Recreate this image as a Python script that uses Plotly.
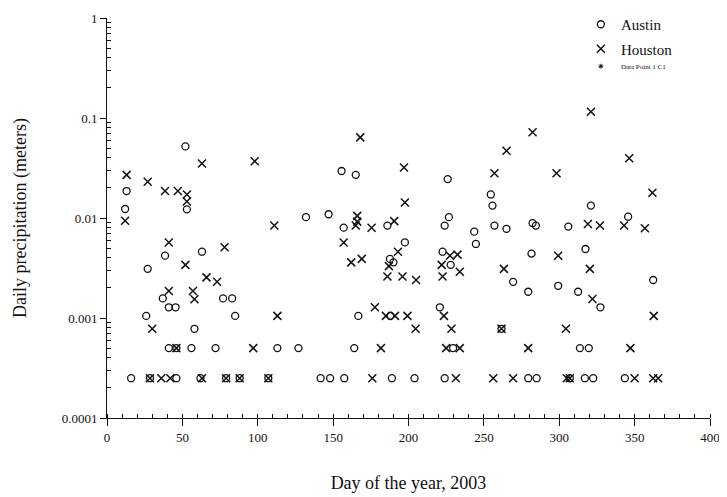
import plotly.graph_objects as go

# ---- Data ----
austin_day = [13, 12, 52, 53, 132, 147,
              38.5, 63, 27, 37, 41, 45.5, 77, 83, 26, 85, 58,
              41, 46, 56, 72, 113, 127,
              16, 28.5, 46, 62, 79, 88, 107,
              155.6, 165, 226, 254.6, 255.7, 157, 186, 226.8, 224, 257, 265,
              197.6, 244.7, 243.6, 187.7, 190, 222.6, 228, 269.4, 166.7, 188, 220.8, 261.7, 164, 229.6,
              141.7, 148, 157.4, 189, 204, 224,
              321, 345.7, 282.3, 284.5, 306, 281.6, 317.4, 279.4, 299.3, 312.5, 327.3, 362.3, 313.7, 319.6,
              279.4, 285, 307, 317, 322.5, 343.5]
austin_val = [0.0186, 0.0123, 0.052, 0.0122, 0.0102, 0.0109,
              0.0042, 0.0046, 0.0031, 0.00157, 0.00128, 0.00128, 0.00157, 0.00157, 0.00105, 0.00105, 0.00078,
              0.0005, 0.0005, 0.0005, 0.0005, 0.0005, 0.0005,
              0.00025, 0.00025, 0.00025, 0.00025, 0.00025, 0.00025, 0.00025,
              0.0295, 0.027, 0.0245, 0.0172, 0.0133, 0.008, 0.0084, 0.0102, 0.0084, 0.0084, 0.0078,
              0.0057, 0.0055, 0.0073, 0.0039, 0.0036, 0.0046, 0.0034, 0.0023, 0.00105, 0.00105, 0.00128, 0.00078, 0.0005, 0.0005,
              0.00025, 0.00025, 0.00025, 0.00025, 0.00025, 0.00025,
              0.0133, 0.0103, 0.0089, 0.0084, 0.0082, 0.0044, 0.0049, 0.00183, 0.0021, 0.00183, 0.00128, 0.0024, 0.0005, 0.0005,
              0.00025, 0.00025, 0.00025, 0.00025, 0.00025, 0.00025]

houston_day = [63, 98, 13, 27, 38.5, 47, 53, 53, 12, 111,
               41, 78, 52, 66, 73, 41, 57, 58, 113, 30,
               46, 97,
               28.5, 36, 42, 63, 79, 88, 107,
               168, 197, 265, 257, 197.6, 166, 166, 165, 175.5, 190.5,
               157, 193, 162, 169, 187, 186, 196, 205, 227.5, 232.5, 222, 234, 222.6, 263.3,
               177.7, 185, 191, 199.3, 204.7, 223.5, 228.5, 261.7, 181.7, 225, 234,
               176, 231.4, 256.2, 269.4,
               321, 282.3, 346.4, 298.2, 361.8, 319, 327, 343, 356.8, 299.3, 320.3, 322, 362.7, 304.4, 279.4, 347.2,
               305, 307, 350, 362.3, 365.6]
houston_val = [0.035, 0.037, 0.027, 0.023, 0.0186, 0.0186, 0.0172, 0.0146, 0.0094, 0.0084,
               0.0057, 0.0051, 0.0034, 0.00255, 0.0023, 0.00186, 0.00186, 0.00154, 0.00105, 0.00078,
               0.0005, 0.0005,
               0.00025, 0.00025, 0.00025, 0.00025, 0.00025, 0.00025, 0.00025,
               0.064, 0.032, 0.047, 0.028, 0.0143, 0.0105, 0.0092, 0.0084, 0.008, 0.0093,
               0.0057, 0.0046, 0.0036, 0.0039, 0.0033, 0.0026, 0.0026, 0.0024, 0.0042, 0.0043, 0.0034, 0.0029, 0.0026, 0.0031,
               0.00128, 0.00105, 0.00105, 0.00105, 0.00078, 0.00105, 0.00078, 0.00078, 0.0005, 0.0005, 0.0005,
               0.00025, 0.00025, 0.00025, 0.00025,
               0.1156, 0.072, 0.0395, 0.028, 0.0179, 0.0087, 0.0084, 0.0084, 0.0079, 0.0042, 0.0031, 0.00155, 0.00105, 0.00078, 0.0005, 0.0005,
               0.00025, 0.00025, 0.00025, 0.00025, 0.00025]

x_ticks = [0, 50, 100, 150, 200, 250, 300, 350, 400]
y_ticks = [1, 0.1, 0.01, 0.001, 0.0001]
y_tick_labels = ["1", "0.1", "0.01", "0.001", "0.0001"]
y_minor_ticks = [m * 10.0 ** e for e in range(-4, 0) for m in range(2, 10)]

FONT = "Liberation Serif, Times New Roman, serif"
INK = "#111111"

fig = go.Figure()
fig.add_trace(go.Scatter(
    x=austin_day, y=austin_val, mode="markers", name="Austin",
    legendgroup="a",
    marker=dict(symbol="circle-open", size=7, color=INK, line=dict(width=1.3, color=INK)),
))
fig.add_trace(go.Scatter(
    x=houston_day, y=houston_val, mode="markers", name="Houston",
    legendgroup="h",
    marker=dict(symbol="x-thin-open", size=8, color=INK, line=dict(width=1.5, color=INK)),
))
fig.add_trace(go.Scatter(
    x=[None], y=[None], mode="markers", name="Data Point 1 C1",
    legend="legend2",
    marker=dict(symbol="asterisk-open", size=4, color=INK, line=dict(width=1, color=INK)),
))

fig.update_layout(
    width=727, height=497,
    margin=dict(l=99, r=25, t=10, b=87, autoexpand=False),
    paper_bgcolor="white", plot_bgcolor="white",
    font=dict(family=FONT, color=INK, size=13),
    legend=dict(xref="container", yref="container", x=0.788, y=1.031,
                xanchor="left", yanchor="top",
                font=dict(family=FONT, size=15, color=INK),
                bgcolor="rgba(0,0,0,0)", tracegroupgap=2),
    legend2=dict(xref="container", yref="container", x=0.788, y=0.912,
                 xanchor="left", yanchor="top",
                 font=dict(family=FONT, size=7, color=INK),
                 bgcolor="rgba(0,0,0,0)"),
    xaxis=dict(
        range=[0, 400], tickvals=x_ticks, ticktext=[str(v) for v in x_ticks],
        automargin=False,
        showgrid=False, zeroline=False, showline=True, linecolor=INK, linewidth=1,
        ticks="outside", ticklen=7, tickcolor=INK,
        minor=dict(dtick=10, ticks="inside", ticklen=4, tickcolor=INK, showgrid=False),
        tickfont=dict(family=FONT, size=13, color=INK),
        title=dict(text="Day of the year, 2003", font=dict(family=FONT, size=18, color=INK), standoff=32),
    ),
    yaxis=dict(
        type="log", range=[-4, 0], tickvals=y_ticks, ticktext=y_tick_labels,
        automargin=False,
        showgrid=False, zeroline=False, showline=True, linecolor=INK, linewidth=1,
        ticks="outside", ticklen=6, tickcolor=INK,
        minor=dict(tickvals=y_minor_ticks, ticks="inside", ticklen=4, tickcolor=INK, showgrid=False),
        tickfont=dict(family=FONT, size=13, color=INK),
        title=dict(text="Daily precipitation (meters)", font=dict(family=FONT, size=18, color=INK), standoff=30),
    ),
)

fig.write_html("out.html")
